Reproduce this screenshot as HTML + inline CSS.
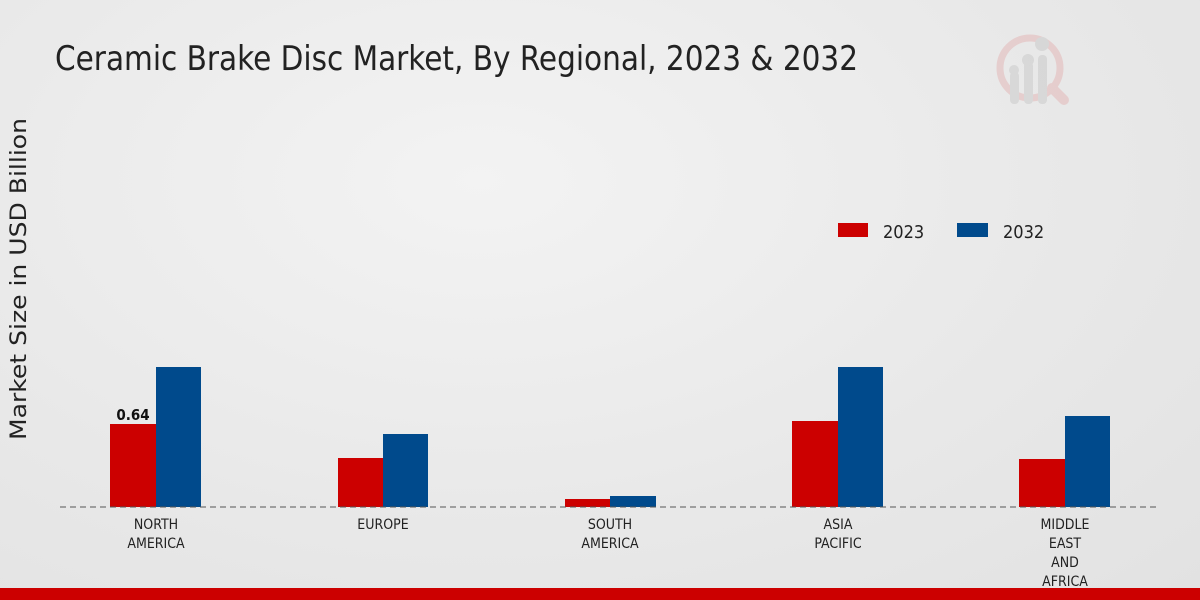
<!DOCTYPE html>
<html><head><meta charset="utf-8"><style>
html,body{margin:0;padding:0}
body{width:1200px;height:600px;overflow:hidden;background:radial-gradient(ellipse at 40% 30%,#f3f3f3 0%,#e8e8e8 60%,#e2e2e2 100%);font-family:"DejaVu Sans Condensed","DejaVu Sans","Liberation Sans",sans-serif;position:relative}
</style></head><body>
<svg width="1200" height="600" style="position:absolute;left:0;top:0">
<text x="55" y="70" font-size="34" fill="#222" font-family="DejaVu Sans Condensed, DejaVu Sans, sans-serif" textLength="803" lengthAdjust="spacingAndGlyphs">Ceramic Brake Disc Market, By Regional, 2023 &amp; 2032</text>
<g opacity="0.5">
<circle cx="1030" cy="68" r="30" fill="none" stroke="#e3b4b4" stroke-width="7"/>
<line x1="1052" y1="88" x2="1064" y2="100" stroke="#e3b4b4" stroke-width="10" stroke-linecap="round"/>
<rect x="1010" y="72" width="9" height="32" rx="4" fill="#c8c8c8"/>
<rect x="1024" y="62" width="9" height="42" rx="4" fill="#c8c8c8"/>
<rect x="1038" y="55" width="9" height="49" rx="4" fill="#c8c8c8"/>
<circle cx="1014" cy="70" r="5" fill="#c8c8c8"/><circle cx="1028" cy="60" r="6" fill="#c8c8c8"/><circle cx="1042" cy="44" r="7" fill="#c8c8c8"/>
</g>
<text transform="translate(26,279) rotate(-90)" font-size="22" fill="#222" text-anchor="middle" font-family="DejaVu Sans, sans-serif" textLength="322" lengthAdjust="spacingAndGlyphs">Market Size in USD Billion</text>
<rect x="838" y="223" width="30" height="14" fill="#cc0000"/>
<text x="883" y="238" font-size="18" fill="#222">2023</text>
<rect x="957" y="223" width="31" height="14" fill="#004a8c"/>
<text x="1003" y="238" font-size="18" fill="#222">2032</text>
<g fill="#cc0000">
<rect x="110" y="424" width="46" height="83"/>
<rect x="338" y="458" width="45" height="49"/>
<rect x="565" y="499" width="45" height="8"/>
<rect x="792" y="421" width="46" height="86"/>
<rect x="1019" y="459" width="46" height="48"/>
</g>
<g fill="#004a8c">
<rect x="156" y="367" width="45" height="140"/>
<rect x="383" y="434" width="45" height="73"/>
<rect x="610" y="496" width="46" height="11"/>
<rect x="838" y="367" width="45" height="140"/>
<rect x="1065" y="416" width="45" height="91"/>
</g>
<line x1="60" y1="507" x2="1160" y2="507" stroke="#555" stroke-width="1" stroke-dasharray="6,4"/>
<text x="133" y="420" font-size="15" font-weight="bold" fill="#111" text-anchor="middle">0.64</text>
<g font-size="14" fill="#222" text-anchor="middle">
<text x="156" y="529">NORTH</text><text x="156" y="548">AMERICA</text>
<text x="383" y="529">EUROPE</text>
<text x="610" y="529">SOUTH</text><text x="610" y="548">AMERICA</text>
<text x="838" y="529">ASIA</text><text x="838" y="548">PACIFIC</text>
<text x="1065" y="529">MIDDLE</text><text x="1065" y="548">EAST</text><text x="1065" y="567">AND</text><text x="1065" y="586">AFRICA</text>
</g>
<rect x="0" y="588" width="1200" height="12" fill="#cc0000"/>
</svg>
</body></html>
